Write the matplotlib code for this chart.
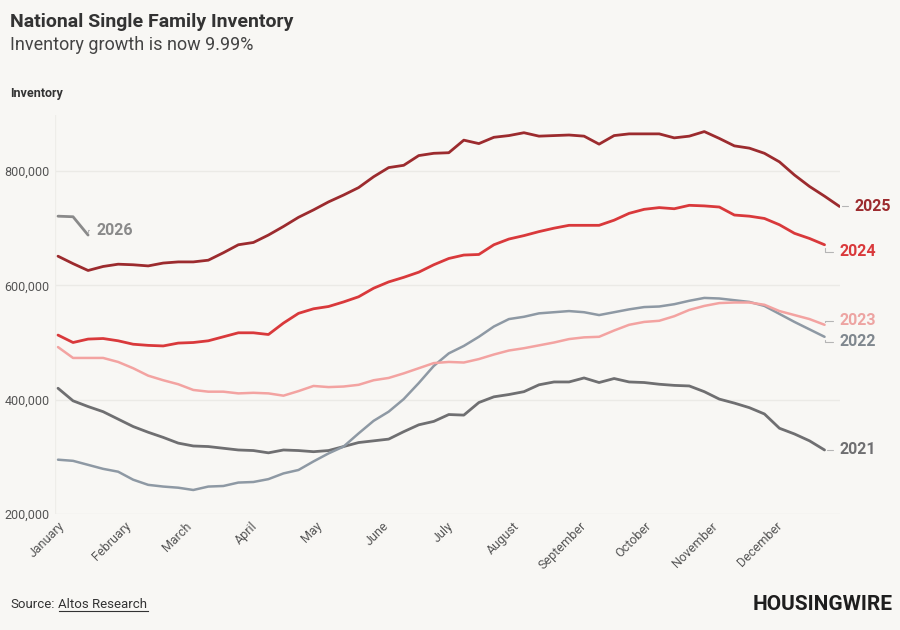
import matplotlib
matplotlib.use("Agg")
import matplotlib.pyplot as plt

plt.rcParams['font.family'] = ['Roboto', 'DejaVu Sans']

# weekly data, day of year for each point = 7 * index
months = ["January", "February", "March", "April", "May", "June", "July",
          "August", "September", "October", "November", "December"]
month_start = [0, 31, 59, 90, 120, 151, 181, 212, 243, 273, 304, 334]

inv_2021 = [420, 398, 388, 379, 366, 353, 343, 334, 324, 319, 318, 315, 312,
            311, 307, 312, 311, 309, 311, 318, 325, 328, 331, 344, 356, 362,
            374, 373, 395, 405, 409, 414, 426, 431, 431, 438, 430, 437, 431,
            430, 427, 425, 424, 414, 401, 394, 386, 375, 350, 340, 328, 312]
inv_2022 = [295, 293, 286, 279, 274, 260, 251, 248, 246, 242, 248, 249, 255,
            256, 261, 271, 277, 292, 306, 318, 341, 363, 379, 401, 429, 459,
            481, 494, 510, 528, 541, 545, 551, 553, 555, 553, 548, 553, 558,
            562, 563, 567, 573, 578, 577, 574, 571, 564, 550, 536, 523, 510]
inv_2023 = [492, 473, 473, 473, 466, 455, 442, 434, 427, 417, 414, 414, 411,
            412, 411, 407, 415, 424, 422, 423, 426, 434, 438, 446, 455, 464,
            466, 465, 471, 479, 486, 490, 495, 500, 506, 509, 510, 521, 531,
            536, 538, 546, 557, 564, 569, 570, 570, 566, 555, 548, 541, 531]
inv_2024 = [513, 500, 506, 507, 503, 497, 495, 494, 499, 500, 503, 510, 517,
            517, 514, 534, 551, 559, 563, 571, 580, 595, 606, 614, 623, 636,
            647, 653, 654, 671, 681, 687, 694, 700, 705, 705, 705, 714, 726,
            733, 736, 734, 740, 739, 737, 723, 721, 717, 706, 691, 682, 671]
inv_2025 = [651, 638, 626, 633, 637, 636, 634, 639, 641, 641, 644, 657, 671,
            675, 688, 703, 719, 732, 746, 758, 771, 790, 806, 810, 827, 831,
            832, 854, 848, 859, 862, 867, 861, 862, 863, 861, 847, 862, 865,
            865, 865, 858, 861, 869, 857, 844, 840, 831, 816, 793, 773, 756,
            738]
inv_2026 = [721, 720, 688]

series = [
    ("2021", inv_2021, "#6f6f71", "#6f6f71", 15, 0),
    ("2022", inv_2022, "#8e99a4", "#7f878e", 15, 5),
    ("2023", inv_2023, "#f3a3a1", "#eda4a2", 15, -4),
    ("2024", inv_2024, "#d9393b", "#d9393b", 15, 7),
    ("2025", inv_2025, "#9c2b2e", "#9c2b2e", 15, 0),
    ("2026", inv_2026, "#8a8a8a", "#8a8a8a", 8, -5),
]

bg = "#f8f7f4"
fig = plt.figure(figsize=(9, 6.3), dpi=100, facecolor=bg)
ax = fig.add_axes([55 / 900, 1 - 514 / 630, 785 / 900, 399 / 630])
ax.set_facecolor(bg)

for name, vals, col, lcol, dx, dy in series:
    xs = [7 * i for i in range(len(vals))]
    ys = [v * 1000 for v in vals]
    lw = 1.8 if name in ("2022", "2023") else 2.0
    ax.plot(xs, ys, color=col, lw=lw, solid_capstyle="round",
            solid_joinstyle="round", zorder=3)
    ax.annotate(name, xy=(xs[-1], ys[-1]), xytext=(dx, -dy),
                textcoords="offset pixels", ha="left", va="center",
                fontsize=11.5, fontweight="bold", color=lcol,
                annotation_clip=False,
                arrowprops=dict(arrowstyle="-", color="#b5b5b5", lw=0.8,
                                shrinkA=3, shrinkB=2,
                                connectionstyle="angle,angleA=0,angleB=90,rad=0"))

ax.set_xlim(-1.4, 364.2)
ax.set_ylim(200000, 898000)
ax.set_yticks([200000, 400000, 600000, 800000])
ax.set_yticklabels(["200,000", "400,000", "600,000", "800,000"])
ax.set_xticks(month_start)
ax.set_xticklabels(months, rotation=45, ha="right", va="top",
                   rotation_mode="anchor")
ax.tick_params(length=0, labelsize=9, labelcolor="#555555", pad=4)
ax.grid(axis="y", color="#ebeae6", lw=1)
for s in ax.spines.values():
    s.set_visible(False)
ax.axvline(-1.4, color="#eeede9", lw=1)

fig.text(10 / 900, 1 - 22 / 630, "National Single Family Inventory",
         fontsize=14, fontweight="bold", color="#333333", va="center")
fig.text(10 / 900, 1 - 45 / 630, "Inventory growth is now 9.99%",
         fontsize=13, color="#444444", va="center")
fig.text(10 / 900, 1 - 93 / 630, "Inventory",
         fontsize=9, fontweight="bold", color="#333333", va="center")
lab = fig.text(10 / 900, 1 - 605 / 630, "Source:", fontsize=9.5,
               color="#333333", va="center")
fig.canvas.draw()
lb = lab.get_window_extent().transformed(fig.transFigure.inverted())
src = fig.text(lb.x1 + 4 / 900, 1 - 605 / 630, "Altos Research",
               fontsize=9.5, color="#333333", va="center")
fig.text(893 / 900, 1 - 604 / 630, "HOUSINGWIRE", fontsize=15,
         fontweight="bold", color="#1e1e1e", ha="right", va="center")

fig.canvas.draw()
bb = src.get_window_extent().transformed(fig.transFigure.inverted())
fig.add_artist(plt.Line2D([bb.x0, bb.x1], [bb.y0 + 0.001, bb.y0 + 0.001],
                          color="#333333", lw=0.8, transform=fig.transFigure))

fig.savefig("out.png", dpi=100, facecolor=bg)
